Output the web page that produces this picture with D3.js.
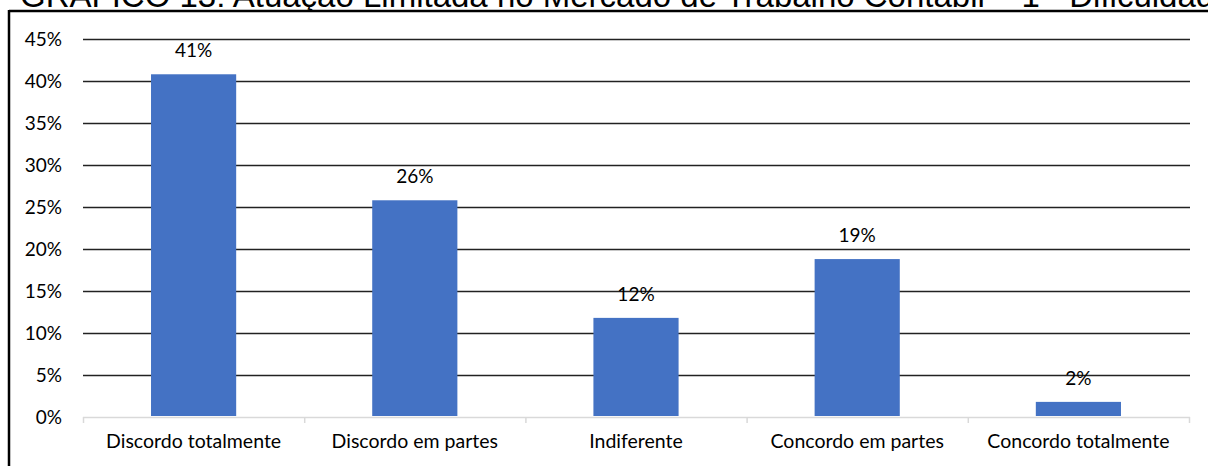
<!DOCTYPE html>
<html><head><meta charset="utf-8">
<script src="https://cdn.jsdelivr.net/npm/d3@7"></script>
<style>html,body{margin:0;padding:0;background:#fff;overflow:hidden}</style>
</head><body>
<svg id="c" width="1208" height="466"></svg>
<script>
const categories = ["Discordo totalmente","Discordo em partes","Indiferente","Concordo em partes","Concordo totalmente"];
const values = [0.408, 0.258, 0.118, 0.188, 0.018];
const yTicks = [0,0.05,0.10,0.15,0.20,0.25,0.30,0.35,0.40,0.45];
const title = "GRÁFICO 13: Atuação Limitada no Mercado de Trabalho Contábil – 1 - Dificuldade";

const svg = d3.select("#c");
const font = "Lato, 'Noto Sans', sans-serif";
const m = {left:83, right:1189, top:39, bottom:417};

// frame + clipped title (the reference shows only the lower part of the title)
svg.append("text").attr("x",20).attr("y",7)
  .attr("font-family","'Liberation Sans', Arial, sans-serif").attr("font-size",33)
  .attr("fill","#000").text(title);
svg.append("rect").attr("x",0).attr("y",11).attr("width",1208).attr("height",455).attr("fill","#fff");
svg.append("line").attr("x1",9).attr("x2",1208).attr("y1",11).attr("y2",11).attr("stroke","#000").attr("stroke-width",2.5);
svg.append("line").attr("x1",9).attr("x2",9).attr("y1",10).attr("y2",466).attr("stroke","#000").attr("stroke-width",2.5);

const x = d3.scaleBand().domain(categories).range([m.left,m.right]).paddingInner(0.615).paddingOuter(0.3075);
const y = d3.scaleLinear().domain([0,0.45]).range([m.bottom,m.top]);

// gridlines
svg.append("g").selectAll("line").data(yTicks.filter(d=>d>0)).join("line")
  .attr("x1",m.left).attr("x2",m.right+1)
  .attr("y1",d=>Math.round(y(d))+0.5).attr("y2",d=>Math.round(y(d))+0.5)
  .attr("stroke","#222").attr("stroke-width",1.4);

// y labels
const yAxis = d3.axisLeft(y).tickValues(yTicks).tickFormat(d3.format(".0%")).tickSize(0).tickPadding(0);
const ya = svg.append("g").attr("transform",`translate(62,0)`).call(yAxis);
ya.select(".domain").remove();
ya.selectAll("text").attr("font-family",font).attr("font-size",19).attr("fill","#000").attr("dy","0.35em");

// bars
svg.append("g").selectAll("rect").data(values).join("rect")
  .attr("x",(d,i)=>x(categories[i])).attr("width",x.bandwidth())
  .attr("y",d=>y(d)).attr("height",d=>y(0)-y(d)-1)
  .attr("fill","#4472c4");

// x axis
const step = (m.right-m.left)/categories.length;
const xa = svg.append("g");
xa.append("line").attr("x1",m.left).attr("x2",m.right+1).attr("y1",m.bottom+0.5).attr("y2",m.bottom+0.5)
  .attr("stroke","#d9d9d9").attr("stroke-width",1.5);
xa.selectAll("line.t").data(d3.range(categories.length+1)).join("line").attr("class","t")
  .attr("x1",i=>m.left+i*step+0.5).attr("x2",i=>m.left+i*step+0.5)
  .attr("y1",m.bottom).attr("y2",m.bottom+6).attr("stroke","#d9d9d9").attr("stroke-width",1.5);
xa.selectAll("text").data(categories).join("text")
  .attr("x",d=>x(d)+x.bandwidth()/2).attr("y",441).attr("dy","0.35em")
  .attr("text-anchor","middle").attr("font-family",font).attr("font-size",19.5).attr("fill","#000").text(d=>d);

// data labels
svg.append("g").selectAll("text").data(values).join("text")
  .attr("x",(d,i)=>x(categories[i])+x.bandwidth()/2).attr("y",d=>y(d)-24).attr("dy","0.35em")
  .attr("text-anchor","middle").attr("font-family",font).attr("font-size",19).attr("fill","#000")
  .text(d=>d3.format(".0%")(d));
</script>
</body></html>
